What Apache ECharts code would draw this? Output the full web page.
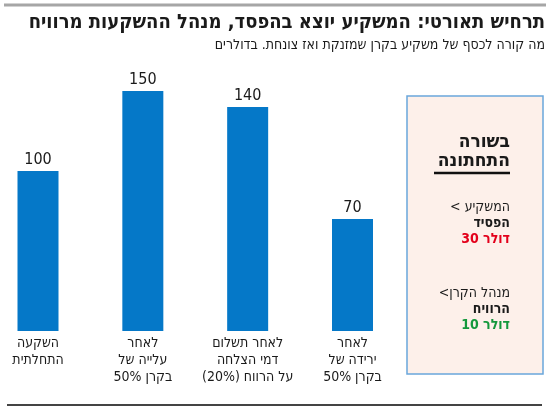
<!DOCTYPE html>
<html>
<head>
<meta charset="utf-8">
<script src="https://cdn.jsdelivr.net/npm/echarts@6/dist/echarts.min.js"></script>
<style>
html,body{margin:0;padding:0;background:#fff;}
#c{width:550px;height:414px;}
</style>
</head>
<body>
<div id="c"></div>
<script>
const titleText = 'תרחיש תאורטי: המשקיע יוצא בהפסד, מנהל ההשקעות מרוויח';
const subtitleText = 'מה קורה לכסף של משקיע בקרן שמזנקת ואז צונחת. בדולרים';
const categories = [
  'השקעה\nהתחלתית',
  'לאחר\nעלייה של\n50% בקרן',
  'לאחר תשלום\nדמי הצלחה\n(20%) על הרווח',
  'לאחר\nירידה של\n50% בקרן'
];
const values = [100, 150, 140, 70];
const boxHeading = ['בשורה', 'התחתונה'];
const investorLines = ['< המשקיע', 'הפסיד', '30 דולר'];
const managerLines = ['<מנהל הקרן', 'הרוויח', '10 דולר'];

const HFONT = "'DejaVu Sans Condensed', sans-serif";

const chart = echarts.init(document.getElementById('c'), null, {renderer: 'canvas'});

function txt(text, x, y, size, weight, color) {
  return {
    type: 'text',
    style: {
      text: text, x: x, y: y,
      font: weight + ' ' + size + 'px ' + HFONT,
      fill: color,
      textAlign: 'right',
      textVerticalAlign: 'middle'
    }
  };
}

const graphics = [
  {type: 'line', shape: {x1: 4, y1: 5, x2: 546, y2: 5}, style: {stroke: '#a6a6a6', lineWidth: 3}},
  txt(titleText, 545, 23, 20, 'bold', '#1a1a1a'),
  txt(subtitleText, 545, 45, 14, 'normal', '#1a1a1a'),
  {type: 'line', shape: {x1: 7, y1: 405, x2: 542, y2: 405}, style: {stroke: '#444', lineWidth: 2}},
  {type: 'rect', shape: {x: 407, y: 96, width: 136, height: 278}, style: {fill: '#fdf0ea', stroke: '#6aa6dc', lineWidth: 1.5}},
  txt(boxHeading[0], 510, 142, 19, 'bold', '#1a1a1a'),
  txt(boxHeading[1], 510, 161, 19, 'bold', '#1a1a1a'),
  {type: 'line', shape: {x1: 434, y1: 173, x2: 510, y2: 173}, style: {stroke: '#111', lineWidth: 2.5}},
  txt(investorLines[0], 510, 207, 14, 'normal', '#1a1a1a'),
  txt(investorLines[1], 510, 223, 14, 'bold', '#1a1a1a'),
  txt(investorLines[2], 510, 239, 14, 'bold', '#e3001b'),
  txt(managerLines[0], 510, 293, 14, 'normal', '#1a1a1a'),
  txt(managerLines[1], 510, 309, 14, 'bold', '#1a1a1a'),
  txt(managerLines[2], 510, 325, 14, 'bold', '#14983c')
];

chart.setOption({
  animation: false,
  backgroundColor: '#fff',
  grid: {left: 38, right: 197.5, top: 91, bottom: 83, containLabel: false},
  xAxis: {
    type: 'category',
    data: categories,
    boundaryGap: false,
    axisLine: {show: false},
    axisTick: {show: false},
    axisLabel: {
      interval: 0,
      margin: 4,
      fontFamily: HFONT,
      fontSize: 14,
      lineHeight: 17,
      color: '#1a1a1a',
      verticalAlign: 'top'
    }
  },
  yAxis: {
    type: 'value',
    min: 0, max: 150,
    show: false,
    splitLine: {show: false}
  },
  series: [{
    type: 'bar',
    data: values,
    barWidth: 41,
    clip: false,
    itemStyle: {color: '#0578c8'},
    label: {
      show: true,
      position: 'top',
      distance: 3,
      fontFamily: HFONT,
      fontSize: 16,
      color: '#1a1a1a'
    }
  }],
  graphic: graphics
});
</script>
</body>
</html>
